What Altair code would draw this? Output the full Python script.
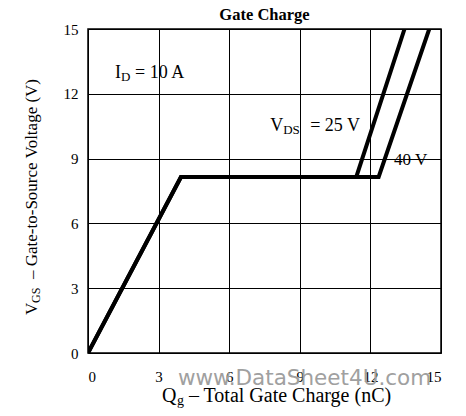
import altair as alt
import pandas as pd

# Curve vertices
q_25 = [0, 3.95, 11.4, 13.45]
v_25 = [0, 8.15, 8.15, 15]
q_40 = [0, 3.95, 12.35, 14.5]
v_40 = [0, 8.15, 8.15, 15]

x_ticks = [0, 3, 6, 9, 12, 15]
y_ticks = [0, 3, 6, 9, 12, 15]

rows = []
for i, (q, v) in enumerate(zip(q_25, v_25)):
    rows.append({"series": "25 V", "order": i, "q": q, "v": v})
for i, (q, v) in enumerate(zip(q_40, v_40)):
    rows.append({"series": "40 V", "order": i, "q": q, "v": v})
df = pd.DataFrame(rows)

SERIF = "Liberation Serif"

xs = alt.Scale(domain=[0, 15], nice=False, zero=False)
ys = alt.Scale(domain=[0, 15], nice=False, zero=False)

lines = alt.Chart(df).mark_line(color="black", strokeWidth=4, strokeJoin="miter", clip=True).encode(
    x=alt.X("q:Q", scale=xs, axis=alt.Axis(values=x_ticks, title=None, labelPadding=16)),
    y=alt.Y("v:Q", scale=ys, axis=alt.Axis(values=y_ticks, title=None, labelPadding=10)),
    detail="series:N",
    order="order:Q",
)

def txt(text, x, y, size=17, dx=0, dy=0, color="black", font=SERIF, weight="normal",
        align="left", baseline="middle", angle=0):
    d = pd.DataFrame({"q": [x], "v": [y], "t": [text]})
    return alt.Chart(d).mark_text(align=align, baseline=baseline, fontSize=size, dx=dx, dy=dy,
                                  font=font, color=color, fontWeight=weight, angle=angle).encode(
        x=alt.X("q:Q", scale=xs), y=alt.Y("v:Q", scale=ys), text="t:N")

ann = [
    # chart title
    txt("Gate Charge", 7.5, 15.42, 16.5, weight="bold", align="center", baseline="alphabetic"),
    # annotations
    txt("I", 1.15, 12.96, 18),
    txt("D", 1.15, 12.96, 13, dx=6, dy=4),
    txt("= 10 A", 1.15, 12.96, 18, dx=20),
    txt("V", 7.74, 10.5, 18),
    txt("DS", 7.74, 10.5, 13, dx=13, dy=4),
    txt("= 25 V", 7.74, 10.5, 18, dx=40),
    txt("40 V", 13.0, 8.94, 17),
    # x axis title
    txt("Q", 3.14, -2.04, 20, baseline="alphabetic", dy=5),
    txt("g", 3.14, -2.04, 14, dx=15, dy=8, baseline="alphabetic"),
    txt("–  Total Gate Charge (nC)", 3.14, -2.04, 20, dx=27, dy=5, baseline="alphabetic"),
    # y axis title (rotated)
    txt("V", -2.4, 1.76, 17, angle=270, baseline="alphabetic", dy=5),
    txt("GS", -2.4, 1.76, 12, angle=270, dx=12, dy=8, baseline="alphabetic"),
    txt("–  Gate-to-Source Voltage (V)", -2.4, 1.76, 17, angle=270, dx=36, dy=5, baseline="alphabetic"),
    # watermark
    txt("www.DataSheet4U.com", 3.82, -1.2, 21.5, color="#a0a0a0", font="DejaVu Sans"),
]

chart = alt.layer(lines, *ann).properties(
    width=353, height=324,
    autosize=alt.AutoSizeParams(type="none"),
    padding={"left": 80, "top": 21, "right": 17, "bottom": 55},
).configure_view(stroke="black", strokeWidth=1.5).configure_axis(
    grid=True, gridColor="black", gridWidth=1, gridOpacity=1,
    domain=False, ticks=False,
    labelFont=SERIF, labelFontSize=15, labelColor="black",
)

chart.save("out.html", embed_options={"renderer": "svg", "actions": False})
